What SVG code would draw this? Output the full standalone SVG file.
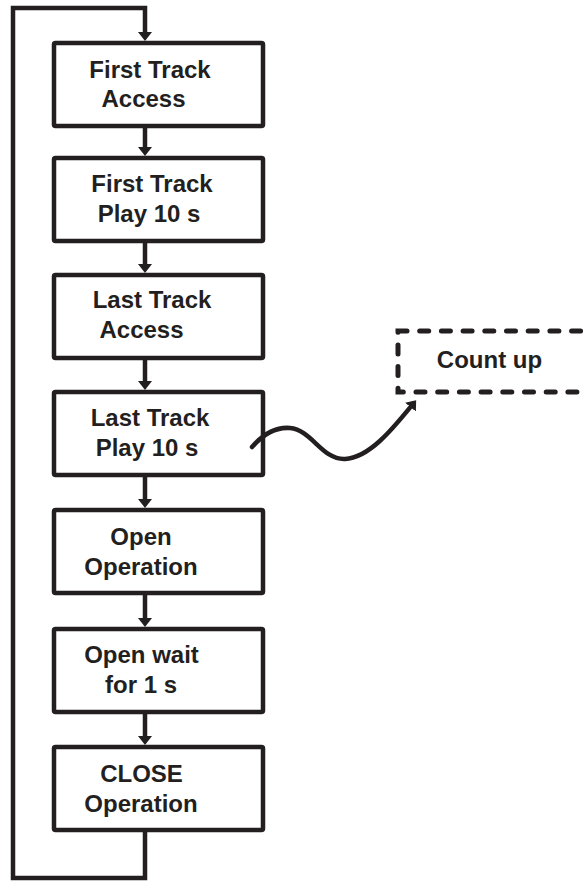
<svg xmlns="http://www.w3.org/2000/svg" width="583" height="881" viewBox="0 0 583 881">
<style>
.box{fill:#fff;stroke:#231f20;stroke-width:4.5}
.t{font-family:"Liberation Sans",Arial,sans-serif;font-weight:bold;font-size:24px;fill:#231f20;text-anchor:middle}
.c{fill:none;stroke:#231f20;stroke-width:4.5}
.dash{fill:none;stroke:#231f20;stroke-width:5;stroke-dasharray:9 12.7;stroke-linecap:round}
</style>
<defs>
<marker id="ah" viewBox="0 0 9 14" refX="4" refY="7" markerWidth="9" markerHeight="14" orient="auto" markerUnits="userSpaceOnUse">
<path d="M0,0 L9,7 L0,14 z" fill="#231f20"/>
</marker>
</defs>
<g id="connectors">
<path class="c" d="M145,832 V878 H13 V8 H145 V36" marker-end="url(#ah)"/>
<path class="c" d="M145,126 V151" marker-end="url(#ah)"/>
<path class="c" d="M145,241 V268" marker-end="url(#ah)"/>
<path class="c" d="M145,358 V385" marker-end="url(#ah)"/>
<path class="c" d="M145,475 V503" marker-end="url(#ah)"/>
<path class="c" d="M145,593 V622" marker-end="url(#ah)"/>
<path class="c" d="M145,712 V740" marker-end="url(#ah)"/>
</g>
<g id="n1"><rect class="box" x="54" y="43" width="209" height="83" rx="1.5"/><text class="t" x="150" y="78">First Track</text><text class="t" x="143.5" y="107">Access</text></g>
<g id="n2"><rect class="box" x="54" y="158" width="209" height="83" rx="1.5"/><text class="t" x="152" y="192">First Track</text><text class="t" x="149" y="222">Play 10 s</text></g>
<g id="n3"><rect class="box" x="54" y="275" width="209" height="83" rx="1.5"/><text class="t" x="152" y="308">Last Track</text><text class="t" x="141.5" y="338">Access</text></g>
<g id="n4"><rect class="box" x="54" y="392" width="209" height="83" rx="1.5"/><text class="t" x="150" y="426">Last Track</text><text class="t" x="147" y="456">Play 10 s</text></g>
<g id="n5"><rect class="box" x="54" y="510" width="209" height="83" rx="1.5"/><text class="t" x="141" y="545">Open</text><text class="t" x="141" y="575">Operation</text></g>
<g id="n6"><rect class="box" x="54" y="629" width="209" height="83" rx="1.5"/><text class="t" x="141.5" y="663">Open wait</text><text class="t" x="141" y="693">for 1 s</text></g>
<g id="n7"><rect class="box" x="54" y="747" width="209" height="83" rx="1.5"/><text class="t" x="141.5" y="782">CLOSE</text><text class="t" x="141" y="812">Operation</text></g>
<g id="count"><rect class="dash" x="398" y="331" width="200" height="61"/><text class="t" x="489.5" y="368">Count up</text></g>
<g id="wave"><path class="c" stroke-linecap="round" d="M252,447 C265,432 278,427 290,428 C312,430 322,460 345,459 C370,458 395,426 413,404" marker-end="url(#ah)"/></g>
</svg>
